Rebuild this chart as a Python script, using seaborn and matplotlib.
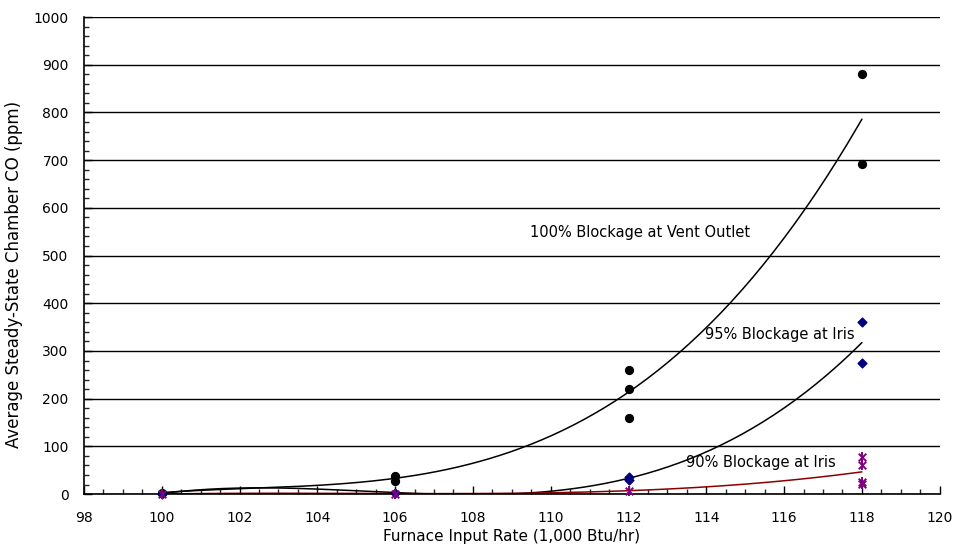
import numpy as np
import pandas as pd
import seaborn as sns
import matplotlib.pyplot as plt
from matplotlib.ticker import MultipleLocator

# furnace input rate (1,000 Btu/hr) for each measured point
vent_x = [100, 106, 106, 112, 112, 112, 118, 118]
vent_y = [3, 38, 28, 261, 220, 160, 880, 692]

iris95_x = [100, 106, 112, 112, 118, 118]
iris95_y = [1, 3, 36, 30, 360, 275]

iris90_x = [100, 106, 112, 118, 118, 118, 118]
iris90_y = [0, 1, 7, 78, 61, 25, 22]

x_ticks = list(range(98, 121, 2))
y_ticks = list(range(0, 1001, 100))

labels = ["100% Blockage at Vent Outlet", "95% Blockage at Iris",
          "90% Blockage at Iris"]


def trend(xs, ys):
    """Third order polynomial trend line, like the spreadsheet fit."""
    coef = np.polyfit(xs, ys, 3)
    grid = np.linspace(min(xs), max(xs), 200)
    return pd.DataFrame({"x": grid, "y": np.polyval(coef, grid)})


def main():
    sns.set_theme(style="ticks")
    plt.rcParams["font.family"] = ["DejaVu Sans"]
    plt.rcParams["text.color"] = "black"
    plt.rcParams["axes.labelcolor"] = "black"

    fig = plt.figure(figsize=(9.54, 5.52), dpi=100)
    ax = fig.add_axes([0.088, 0.105, 0.897, 0.864])

    # black dots, navy diamonds
    sets = [
        (vent_x, vent_y, "black", "o", "black", 32),
        (iris95_x, iris95_y, "#000080", "D", "black", 20),
    ]
    for xs, ys, color, marker, line_color, size in sets:
        fit = trend(xs, ys)
        sns.lineplot(data=fit, x="x", y="y", color=line_color, lw=1.1,
                     ax=ax, zorder=2)
        pts = pd.DataFrame({"x": xs, "y": ys})
        sns.scatterplot(data=pts, x="x", y="y", color=color, marker=marker,
                        s=size, edgecolor=color, linewidth=1.0, ax=ax,
                        zorder=3, clip_on=False)

    # purple star markers (x with a vertical bar) and dark red trend line
    fit = trend(iris90_x, iris90_y)
    sns.lineplot(data=fit, x="x", y="y", color="#8b0000", lw=1.1, ax=ax,
                 zorder=2)
    pts = pd.DataFrame({"x": iris90_x, "y": iris90_y})
    for marker, size in [("x", 30), ("|", 50)]:
        sns.scatterplot(data=pts, x="x", y="y", color="#800080",
                        marker=marker, s=size, linewidth=1.4, ax=ax,
                        zorder=3, clip_on=False)

    ax.set_xlim(98, 120)
    ax.set_ylim(0, 1000)
    ax.set_xticks(x_ticks)
    ax.set_yticks(y_ticks)
    ax.xaxis.set_minor_locator(MultipleLocator(0.5))
    ax.yaxis.set_minor_locator(MultipleLocator(20))
    ax.tick_params(which="major", direction="in", length=6, width=1,
                   labelsize=10, colors="black")
    ax.tick_params(axis="x", which="major", pad=12)
    ax.tick_params(axis="y", which="major", pad=11)
    ax.tick_params(which="minor", direction="in", length=3.5, width=1)
    ax.grid(axis="y", color="black", lw=1)
    ax.set_axisbelow(True)
    for side in ["top", "right"]:
        ax.spines[side].set_visible(False)
    for side in ["left", "bottom"]:
        ax.spines[side].set_color("black")
        ax.spines[side].set_linewidth(1.2)

    ax.set_xlabel("Furnace Input Rate (1,000 Btu/hr)", fontsize=11,
                  labelpad=3)
    ax.set_ylabel("Average Steady-State Chamber CO (ppm)", fontsize=12)
    ax.yaxis.set_label_coords(-0.071, 0.46)

    ax.text(112.3, 549, labels[0], ha="center", va="center", fontsize=10.5)
    ax.text(115.9, 335, labels[1], ha="center", va="center", fontsize=10.5)
    ax.text(115.4, 67, labels[2], ha="center", va="center", fontsize=10.5)

    fig.savefig("out.png", dpi=100)


if __name__ == '__main__':
    main()
